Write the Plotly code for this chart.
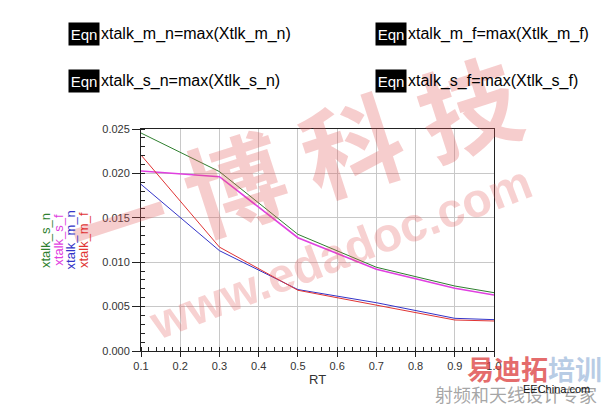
import plotly.graph_objects as go

# sweep of RT and the four crosstalk results
rt = [0.1, 0.3, 0.5, 0.7, 0.9, 1.0]
xtalk_s_n = [0.02455, 0.0202, 0.01314, 0.00943, 0.00732, 0.00657]
xtalk_s_f = [0.02027, 0.01963, 0.01276, 0.0092, 0.00706, 0.0063]
xtalk_m_n = [0.01877, 0.0113, 0.00692, 0.00544, 0.00368, 0.00353]
xtalk_m_f = [0.02207, 0.0117, 0.00684, 0.00518, 0.00349, 0.00338]

series_names = ["xtalk_s_n", "xtalk_s_f", "xtalk_m_n", "xtalk_m_f"]
series_colors = ["#2f7f2f", "#e040e0", "#3434c8", "#e03434"]
equations = ["xtalk_m_n=max(Xtlk_m_n)", "xtalk_m_f=max(Xtlk_m_f)",
             "xtalk_s_n=max(Xtlk_s_n)", "xtalk_s_f=max(Xtlk_s_f)"]

W, H = 602, 404
L, R, T, B = 141, 494, 129, 351


# px(x) / py(y)
#   turn a pixel position of the window into paper coordinates.
def px(x):
    return (x - L) / (R - L)


def py(y):
    return (B - y) / (B - T)


# note(text, x, y, ...)
#   small helper for a centred annotation placed in window pixels.
def note(text, x, y, size, color, family="Liberation Sans", angle=0, **kw):
    d = dict(text=text, x=px(x), y=py(y), xref="paper", yref="paper",
             xanchor="center", yanchor="middle", showarrow=False, textangle=angle,
             font=dict(family=family, size=size, color=color))
    d.update(kw)
    return d


fig = go.Figure()

values = [xtalk_s_n, xtalk_s_f, xtalk_m_n, xtalk_m_f]
widths = [1, 1.6, 1, 1]
for name, vals, col, w in zip(series_names, values, series_colors, widths):
    fig.add_trace(go.Scatter(x=rt, y=vals, name=name, mode="lines",
                             line=dict(color=col, width=w)))

ann = []

# watermark
ann.append(note("<b>一 博 科 技</b>", 292, 160, 100, "rgba(225,90,90,0.30)",
                family="Noto Sans CJK SC", angle=-18))
ann.append(note("<b>www.edadoc.com</b>", 340, 252, 48, "rgba(225,90,90,0.28)", angle=-21))
ann.append(note("<b>易迪拓</b><b><span style='color:rgba(130,165,210,0.75)'>培训</span></b>",
                534, 368, 27, "rgba(220,60,60,0.75)", family="Noto Sans CJK SC"))
ann.append(note("射频和天线设计专家", 516, 394, 18, "rgba(150,150,150,0.85)",
                family="Noto Sans CJK SC"))
ann.append(note("EEChina.com", 556, 389, 11, "#111"))

# equation blocks
eq_pos = [(69, 34), (376, 34), (69, 81), (376, 81)]
for eq, (ex, ey) in zip(equations, eq_pos):
    ann.append(note("Eqn", ex + 15, ey, 15, "white", bgcolor="black", width=30, height=22,
                    borderpad=0))
    ann.append(note(eq, ex + 30, ey, 16, "black", xanchor="left"))

# rotated series names on the left of the y axis
for i, (name, col) in enumerate(zip(series_names, series_colors)):
    ann.append(note(name, 45 + i * 12.7, 240, 13, col, angle=-90))

ann.append(note("RT", (L + R) / 2, 379, 13, "#333"))

fig.update_layout(
    width=W, height=H,
    margin=dict(l=L, r=W - R, t=T, b=H - B),
    paper_bgcolor="white", plot_bgcolor="white",
    showlegend=False,
    annotations=ann,
    font=dict(family="Liberation Sans", size=11, color="#333"),
)
fig.update_xaxes(range=[0.1, 1.0], tick0=0.1, dtick=0.1, tickformat=".1f",
                 showgrid=True, gridcolor="#c8c8c8", gridwidth=1,
                 showline=True, linecolor="#222", linewidth=1, mirror=True,
                 ticks="outside", ticklen=5, tickcolor="#222", zeroline=False,
                 minor=dict(ticks="inside", dtick=0.02, tick0=0, ticklen=4, tickcolor="#222",
                            showgrid=False))
fig.update_yaxes(range=[0, 0.025], tick0=0, dtick=0.005, tickformat=".3f",
                 showgrid=True, gridcolor="#c8c8c8", gridwidth=1,
                 showline=True, linecolor="#222", linewidth=1, mirror=True,
                 ticks="outside", ticklen=8, tickcolor="#222", zeroline=False,
                 minor=dict(ticks="inside", dtick=0.001, tick0=0, ticklen=4, tickcolor="#222",
                            showgrid=False))

# the page body has a default margin, drop it so the figure sits at 0,0
fig.write_html("out.html", config={"displayModeBar": False},
               post_script="document.body.style.margin='0';")
